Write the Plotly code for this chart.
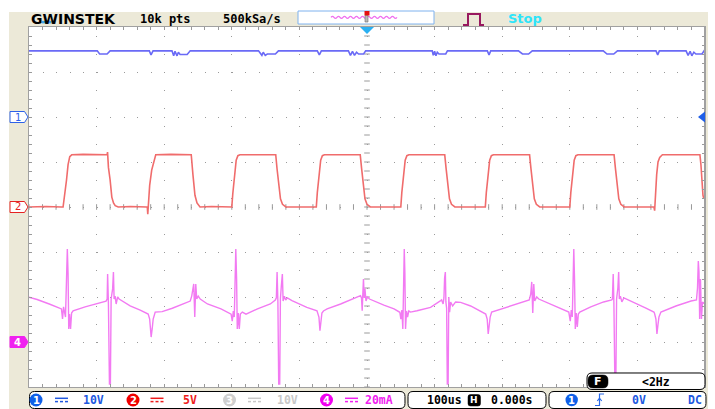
import numpy as np
import plotly.graph_objects as go

W, H = 715, 409

# ---- acquisition settings -------------------------------------------------
T_RANGE = [-500, 500]              # us, 100 us/div, trigger at centre
CH1_SCALE, CH1_OFFSET = 10, 2      # V/div, ground position in div
CH2_SCALE, CH2_OFFSET = 5, 0       # V/div
CH4_SCALE, CH4_OFFSET = 20, -3     # mA/div

# ---- CH1 (supply rail, V) -------------------------------------------------
CH1_T = [-500,
         -399, -395.5, -384.5, -380,
         -322, -319.5, -316.5,
         -288.5, -286, -284, -281, -279, -276.5, -266, -261.5,
         -160.5, -155.5, -153.5, -150.5, -147.5, -135.5, -131,
         -73.5, -70.5, -67.5,
         -27.5, -24.5, -21.5, -18.5, -15.5, -12.5, -5, -2,
         96.5, 98, 100, 102, 104, 106.5, 116.5, 119,
         178, 180.5, 183,
         224, 230, 239, 244.5,
         349.5, 355, 365, 370.5,
         427.5, 430, 432.5,
         472, 475, 478, 480.5, 483.5, 486.5, 495.5, 498.5, 500]
CH1_V = [14.7,
         14.7, 14.0, 14.0, 14.7,
         14.7, 13.8, 14.7,
         14.7, 13.6, 14.6, 13.6, 14.4, 13.9, 13.9, 14.7,
         14.7, 13.7, 14.4, 13.7, 14.0, 14.0, 14.7,
         14.7, 13.8, 14.7,
         14.7, 13.7, 14.6, 13.7, 14.4, 14.0, 14.0, 14.7,
         14.7, 13.7, 14.6, 13.6, 14.4, 14.0, 14.0, 14.7,
         14.7, 13.8, 14.7,
         14.7, 14.0, 14.0, 14.7,
         14.7, 14.0, 14.0, 14.7,
         14.7, 13.8, 14.7,
         14.7, 13.7, 14.6, 13.6, 14.4, 14.0, 14.0, 14.6, 15.0]

# ---- CH2 (gate drive, V) --------------------------------------------------
CH2_T = [-500, -475, -452,
         -449.6, -444.5, -442.2, -439.7, -436.8, -420, -386,
         -384.5, -383.8, -382.5, -380, -377.5, -375, -372.5, -368, -350, -326,
         -325, -324.3, -323, -321.5, -318.5, -316.5, -314, -312.5, -290, -261,
         -260, -257.5, -254.5, -251.5, -247, -230, -201,
         -200, -198.5, -196, -193.5, -191, -188, -136,
         -135, -133, -130.5, -128, -125, -120, -76,
         -75, -73.5, -71, -68.5, -66, -63, -11,
         -10, -8, -5.5, -3, 0, 5, 49,
         50, 51.5, 54, 56.5, 59, 62, 114,
         115, 117, 119.5, 122, 125, 130, 174,
         175, 176.5, 179, 181.5, 184, 187, 239.5,
         240.5, 242.5, 245, 247.5, 250.5, 255.5, 299,
         300, 301.5, 304, 306.5, 309, 312, 364.5,
         365.5, 367.5, 370, 372.5, 375.5, 380.5, 424,
         424.5, 425.5, 426.5, 428.5, 430.5, 433, 437, 491.5,
         492.5, 494, 495.5, 497, 498, 500]
CH2_V = [0.0, 0.05, 0.0,
         0.0, 3.0, 4.7, 5.6, 5.8, 5.85, 5.8,
         5.8, 6.1, 4.4, 3.0, 1.1, 0.45, 0.15, 0.0, 0.05, 0.0,
         0.0, -0.8, 0.8, 2.4, 4.1, 4.7, 5.3, 5.8, 5.85, 5.8,
         5.8, 3.6, 1.3, 0.45, 0.0, 0.05, 0.0,
         0.0, 1.5, 3.8, 5.2, 5.7, 5.8, 5.8,
         5.8, 4.2, 2.2, 0.9, 0.3, 0.0, 0.0,
         0.0, 1.6, 3.9, 5.2, 5.7, 5.8, 5.8,
         5.8, 4.3, 2.3, 0.9, 0.3, 0.0, 0.0,
         0.0, 1.6, 3.9, 5.2, 5.7, 5.8, 5.8,
         5.8, 4.3, 2.3, 0.9, 0.3, 0.0, 0.0,
         0.0, 1.6, 3.9, 5.2, 5.7, 5.8, 5.8,
         5.8, 4.3, 2.3, 0.9, 0.3, 0.0, 0.0,
         0.0, 1.6, 3.9, 5.2, 5.7, 5.8, 5.8,
         5.8, 4.3, 2.3, 0.9, 0.3, 0.0, 0.0,
         0.0, -0.4, 1.5, 3.6, 5.0, 5.5, 5.8, 5.8,
         5.8, 4.7, 2.4, 1.3, 1.0, 0.9]

# ---- CH4 (coil current, mA) -----------------------------------------------
CH4_T = [-500, -488, -470, -457, -452,
         -450.4, -448.9, -446.0, -444.5, -443.3, -442.2, -441.2, -440.0, -438.5, -437.0, -434.8,
         -417, -402, -386,
         -384.4, -383.7, -382.5, -381.0, -379.6, -378.5, -376.3, -375.1, -374.1, -372.6, -371.1, -368.9, -366.7,
         -350.4, -335.5, -323.7,
         -321.5, -319.3, -317.8, -316.3, -313.3,
         -303, -288, -268, -261.5,
         -259.3, -257.8, -256.3, -254.8, -253.3, -251.9, -249.6, -246.7,
         -236, -216, -201,
         -199.3, -197.8, -196.3, -195.3, -194.1, -192.9, -191.9, -190.4, -188.9, -187.4, -184.4,
         -179, -162, -143, -135.6,
         -134.1, -133.0, -131.8, -130.6, -129.1, -128.1, -126.7, -125.2, -124.1, -122.2, -120.3, -117.8,
         -111, -89, -74,
         -71.1, -69.6, -68.1, -66.7, -64.4,
         -59, -39, -20, -9.6,
         -8.1, -7.1, -6.2, -5.2, -4.1, -3.0, -1.5, 0.7, 3.7,
         10, 25, 40, 48.6,
         50.1, 51.6, 53.0, 54.1, 55.1, 56.0, 57.0, 58.5, 60.0, 61.9, 64.4,
         74, 94, 109,
         110.4, 112.6, 113.8, 114.8, 115.9, 116.7, 117.8, 118.8, 120.0, 121.0, 122.2, 123.7, 126.7, 131.1,
         138.5, 153.3, 168, 174,
         175.6, 177.8, 179.3, 180.7, 182.2, 184.4,
         212.6, 234.8, 240,
         242.2, 243.7, 245.2, 246.7, 248.1, 251.1, 254.1,
         271.9, 289.6, 298.5,
         300.7, 302.2, 303.7, 304.9, 305.9, 307.0, 308.1, 309.6, 311.1, 312.6, 314.8,
         331, 350, 362,
         363, 364.2, 365.2, 366.7, 368.1, 369.2, 371.1, 372.3, 373.3, 374.8, 377.0, 380.0,
         397.8, 412.6, 424.4,
         425.2, 427.4, 428.9, 430.4, 431.9, 434.8,
         457, 479.3, 487.4,
         488.9, 490.1, 491.1, 492.1, 493.3, 494.8, 496.3, 498.5, 500]
CH4_MA = [19.9, 18.9, 16.9, 15.1, 14.7,
          10.2, 15.6, 11.1, 30.2, 41.3, 30.2, 5.8, 12.4, 5.8, 12.9, 13.8,
          15.6, 16.9, 18.2,
          19.1, 30.2, 16.9, -18.7, -18.7, 19.1, 23.6, 31.1, 19.1, 20.4, 16.9, 20.0, 19.1,
          16.1, 14.2, 12.4,
          10.2, 2.2, 5.8, 10.2, 13.3,
          13.5, 15.0, 17.6, 18.2,
          20.4, 23.6, 25.8, 11.1, 25.8, 19.1, 20.4, 19.1,
          16.9, 14.7, 12.4,
          9.3, 13.8, 11.1, 30.2, 41.3, 28.0, 5.8, 12.9, 5.8, 12.4, 13.3,
          12.4, 14.7, 16.9, 18.7,
          19.6, 31.1, 17.8, -18.7, -18.7, 19.1, 25.0, 30.2, 18.2, 20.4, 18.7, 19.6,
          18.4, 15.4, 13.9,
          11.1, 5.0, 9.3, 12.9, 13.8,
          14.7, 16.9, 19.1, 20.6,
          19.6, 13.9, 21.3, 28.0, 19.6, 23.6, 18.2, 20.0, 19.1,
          18.4, 16.4, 14.7, 13.2,
          10.2, 14.2, 5.8, 19.1, 41.3, 31.1, 5.8, 13.8, 11.1, 13.8, 13.3,
          13.9, 15.4, 18.4,
          18.7, 16.9, 19.6, 28.4, 31.1, 17.8, 15.0, -18.7, -18.7, 20.0, 13.3, 17.8, 16.0, 17.8,
          17.6, 16.0, 13.8, 12.9,
          12.4, 10.2, 3.6, 7.1, 11.1, 13.3,
          16.0, 18.2, 18.7,
          21.3, 26.7, 12.9, 25.8, 18.2, 20.0, 19.1,
          16.9, 14.7, 13.3,
          9.3, 14.2, 11.1, 30.2, 41.3, 28.0, 5.8, 12.9, 6.7, 12.4, 13.3,
          15.6, 17.8, 18.7,
          19.1, 30.2, 17.8, -18.7, -18.7, 19.1, 24.0, 31.1, 19.1, 20.4, 17.8, 19.6,
          17.3, 15.1, 13.3,
          12.9, 10.2, 3.6, 7.6, 11.1, 13.3,
          16.0, 18.2, 18.7,
          24.0, 36.0, 31.1, 10.2, 28.0, 10.2, 17.8, 17.3, 16.9]

# ---- readout texts --------------------------------------------------------
HEADER = ["10k pts", "500kSa/s", "Stop"]
CH_READOUT = ["10V", "5V", "10V", "20mA"]
TIMEBASE = ["100us", "0.000s"]
TRIGGER = ["0V", "DC", "<2Hz"]

# ---- colours --------------------------------------------------------------
BEIGE = "#ECE9D8"
GRID = "#9a9a9a"
C1, C2, C3, C4 = "#6a6af6", "#f06c6c", "#c8c8c8", "#f27af2"
C1_TXT, C2_TXT, C4_TXT = "#2158e0", "#ee1c1c", "#f020f0"
MONO = "DejaVu Sans Mono"

# plot area in pixels
PL, PR, PT, PB = 29, 705, 27, 387


def P(x, y):
    return f"{x / W:.5f},{1 - y / H:.5f}"


def rrect_path(x0, y0, x1, y1, r):
    return (f"M{P(x0 + r, y0)} L{P(x1 - r, y0)} Q{P(x1, y0)} {P(x1, y0 + r)} "
            f"L{P(x1, y1 - r)} Q{P(x1, y1)} {P(x1 - r, y1)} L{P(x0 + r, y1)} "
            f"Q{P(x0, y1)} {P(x0, y1 - r)} L{P(x0, y0 + r)} Q{P(x0, y0)} {P(x0 + r, y0)} Z")


def rect(x0, y0, x1, y1, fill, line=None, lw=0, layer="above"):
    return dict(type="rect", xref="paper", yref="paper", x0=x0 / W, x1=x1 / W,
                y0=1 - y1 / H, y1=1 - y0 / H, fillcolor=fill, layer=layer,
                line=dict(color=line or fill, width=lw))


def seg(x0, y0, x1, y1, color, lw):
    return dict(type="line", xref="paper", yref="paper", x0=x0 / W, x1=x1 / W,
                y0=1 - y0 / H, y1=1 - y1 / H, line=dict(color=color, width=lw))


def circle(cx, cy, r, fill):
    return dict(type="circle", xref="paper", yref="paper", x0=(cx - r) / W, x1=(cx + r) / W,
                y0=1 - (cy + r) / H, y1=1 - (cy - r) / H, fillcolor=fill, line=dict(width=0))


def rpath(d, fill=None, line="black", lw=1):
    return dict(type="path", xref="paper", yref="paper", path=d,
                fillcolor=fill if fill else "rgba(0,0,0,0)", line=dict(color=line, width=lw))


def txt(x, y, s, color="black", size=12, family=MONO, bold=True, xanchor="center"):
    return dict(x=x / W, y=1 - y / H, xref="paper", yref="paper", text=f"<b>{s}</b>" if bold else s,
                showarrow=False, xanchor=xanchor, yanchor="middle",
                font=dict(family=family, size=size, color=color))


def ch_range(scale, offset):
    return [(-4 - offset) * scale, (4 - offset) * scale]


fig = go.Figure()

# centre graticule ticks
fig.add_trace(go.Scatter(x=np.zeros(41), y=np.linspace(-4, 4, 41), mode="markers",
                         marker=dict(symbol="line-ew", size=4, line=dict(color=GRID, width=1)),
                         hoverinfo="skip"))
fig.add_trace(go.Scatter(x=np.linspace(-500, 500, 51), y=np.zeros(51), mode="markers",
                         marker=dict(symbol="line-ns", size=4, line=dict(color=GRID, width=1)),
                         hoverinfo="skip"))

fig.add_trace(go.Scatter(x=CH1_T, y=CH1_V, yaxis="y2", mode="lines",
                         line=dict(color=C1, width=1.6)))
fig.add_trace(go.Scatter(x=CH2_T, y=CH2_V, yaxis="y3", mode="lines",
                         line=dict(color=C2, width=1.6)))
fig.add_trace(go.Scatter(x=CH4_T, y=CH4_MA, yaxis="y4", mode="lines",
                         line=dict(color=C4, width=1.4)))

axis_common = dict(showticklabels=False, zeroline=False, showline=True, linecolor="#a0a0a0",
                   linewidth=1, mirror="ticks", ticks="inside", ticklen=3, tickcolor=GRID,
                   showgrid=True, gridcolor=GRID, gridwidth=1, fixedrange=True)

shapes = []
# white surround outside the instrument panel
shapes.append(rect(0, 0, W, 12, "white", layer="below"))
shapes.append(rect(0, 0, 9, H, "white", layer="below"))
shapes.append(rect(708, 0, W, H, "white", layer="below"))
# right frame edge
shapes.append(seg(PR, PT, PR, PB, "#a0a0a0", 2))

# header: memory bar
shapes.append(rect(298, 11, 434, 24, "white", "#7fb2ee", 1))
wave = f"M{P(331, 17.3)}"
xw, up = 331.0, True
while xw < 397:
    wave += f" Q{P(xw + 1.5, 15.3 if up else 19.3)} {P(xw + 3, 17.3)}"
    xw += 3
    up = not up
shapes.append(rpath(wave, line="#f070f0", lw=1.2))
shapes.append(rect(365, 15.5, 368, 22, "#b8b8b8", "#707070", 0.6))
shapes.append(rect(364.5, 11, 369.5, 15.5, "#e41010"))
# run/stop pulse icon
shapes.append(rpath(f"M{P(463, 25)} L{P(468, 25)} L{P(468, 14)} L{P(480, 14)} L{P(480, 25)} L{P(484, 25)}",
                    line="#98195f", lw=2))
# logo accent
shapes.append(rect(42, 20.8, 51.5, 23.4, "#3ea2ee"))

# trigger position marker (top, at t = 0)
shapes.append(dict(type="path", xref="x", yref="paper", xsizemode="pixel", ysizemode="pixel",
                   xanchor=0, yanchor=1 - PT / H, path="M-7,0 L7,0 L0,-7 Z",
                   fillcolor="#2ab0f2", line=dict(width=0)))
# trigger level marker (right, CH1 0 V)
shapes.append(dict(type="path", xref="paper", yref="y2", xsizemode="pixel", ysizemode="pixel",
                   xanchor=PR / W, yanchor=0, path="M-7,0 L0,5.5 L0,-5.5 Z",
                   fillcolor="#1f5fe8", line=dict(width=0)))

# channel ground markers
for yref, col, fill in [("y2", "#2e62e8", "white"), ("y3", "#e52222", "white"), ("y4", "#f022f0", "#f022f0")]:
    shapes.append(dict(type="path", xref="paper", yref=yref, xsizemode="pixel", ysizemode="pixel",
                       xanchor=0, yanchor=0, path="M10,5.5 L24.5,5.5 L28,0 L24.5,-5.5 L10,-5.5 Z",
                       fillcolor=fill, line=dict(color=col, width=1)))

# status bar boxes
shapes.append(rpath(rrect_path(587, 373, 705, 389.5, 5), fill="white", line="black", lw=1))
shapes.append(rpath(rrect_path(29.5, 391.5, 405, 408.5, 5), fill="white", line="black", lw=1))
shapes.append(rpath(rrect_path(408, 391.5, 546, 408.5, 5), fill="white", line="black", lw=1))
shapes.append(rpath(rrect_path(549, 391.5, 706, 408.5, 5), fill="white", line="black", lw=1))
shapes.append(rpath(rrect_path(588, 375, 608, 388, 5), fill="black", line="black", lw=0.5))
shapes.append(rpath(rrect_path(468, 394.5, 480.5, 406, 2.5), fill="black", line="black", lw=0.5))

# channel badges and coupling symbols
badge_x = [36, 133, 229.5, 326.5]
badge_c = ["#1060e8", "#f00000", "#cfcfcf", "#f000f0"]
dc_x = [55, 150.5, 248, 345]
dc_c = ["#2158e0", "#ee1c1c", "#c8c8c8", "#f020f0"]
for bx, bc in zip(badge_x, badge_c):
    shapes.append(circle(bx, 400, 6.5, bc))
for dx, dcol in zip(dc_x, dc_c):
    shapes.append(seg(dx, 398.3, dx + 13, 398.3, dcol, 1.5))
    for k in range(3):
        shapes.append(seg(dx + 5 * k, 401.6, dx + 5 * k + 3, 401.6, dcol, 1.5))
shapes.append(circle(571.7, 400, 6.2, "#1060e8"))
# rising-edge trigger slope icon
shapes.append(rpath(f"M{P(595, 405.5)} L{P(599.5, 405.5)} L{P(599.5, 394)} L{P(604, 394)}",
                    line="#2a6ae8", lw=1.2))
shapes.append(rpath(f"M{P(597.3, 401)} L{P(599.5, 398.2)} L{P(601.7, 401)}", line="#2a6ae8", lw=1.2))

ann = [
    txt(29, 18.5, "GWINSTEK", family="DejaVu Sans", size=14, xanchor="left"),
    txt(165, 19, HEADER[0]),
    txt(252.5, 19, HEADER[1]),
    txt(525, 18.5, HEADER[2], color="#2ee4fa", family="DejaVu Sans", size=13),
    txt(17.5, 117, "1", color="#2e62e8", family="DejaVu Sans", size=10, bold=False),
    txt(17.5, 207, "2", color="#e52222", family="DejaVu Sans", size=10, bold=False),
    txt(17.5, 342.5, "4", color="white", family="DejaVu Sans", size=10),
    txt(93, 400, CH_READOUT[0], color=C1_TXT, size=11.5),
    txt(190, 400, CH_READOUT[1], color=C2_TXT, size=11.5),
    txt(287, 400, CH_READOUT[2], color=C3, size=11.5),
    txt(379, 400, CH_READOUT[3], color=C4_TXT, size=11.5),
    txt(444.5, 400, TIMEBASE[0], size=11.5),
    txt(511.5, 400, TIMEBASE[1], size=11.5),
    txt(638.5, 400, TRIGGER[0], color=C1_TXT, size=11.5),
    txt(695, 400, TRIGGER[1], color=C1_TXT, size=11.5),
    txt(656, 381.5, TRIGGER[2], size=11.5),
    txt(598, 381.8, "F", color="white", family="DejaVu Sans", size=11),
    txt(474.3, 400.3, "H", color="white", family="DejaVu Sans", size=9),
]
for bx, label in zip(badge_x, ["1", "2", "3", "4"]):
    ann.append(txt(bx, 400.3, label, color="white", family="DejaVu Sans", size=10))
ann.append(txt(571.7, 400.3, "1", color="white", family="DejaVu Sans", size=10))

fig.update_layout(
    width=W, height=H,
    margin=dict(l=0, r=0, t=0, b=0, pad=0),
    paper_bgcolor=BEIGE, plot_bgcolor="white",
    showlegend=False, hovermode=False,
    xaxis=dict(range=T_RANGE, domain=[PL / W, PR / W], dtick=100,
               griddash="0px,9px,1px,8px",
               minor=dict(dtick=20, ticks="inside", ticklen=3, tickcolor=GRID, showgrid=False),
               **axis_common),
    yaxis=dict(range=[-4, 4], domain=[1 - PB / H, 1 - PT / H], dtick=1,
               griddash="1px,12.5px",
               minor=dict(dtick=0.2, ticks="inside", ticklen=3, tickcolor=GRID, showgrid=False),
               **axis_common),
    yaxis2=dict(range=ch_range(CH1_SCALE, CH1_OFFSET), overlaying="y", visible=False, fixedrange=True),
    yaxis3=dict(range=ch_range(CH2_SCALE, CH2_OFFSET), overlaying="y", visible=False, fixedrange=True),
    yaxis4=dict(range=ch_range(CH4_SCALE, CH4_OFFSET), overlaying="y", visible=False, fixedrange=True),
    shapes=shapes,
    annotations=ann,
)

fig.write_html("out.html", config=dict(displayModeBar=False, staticPlot=True))
